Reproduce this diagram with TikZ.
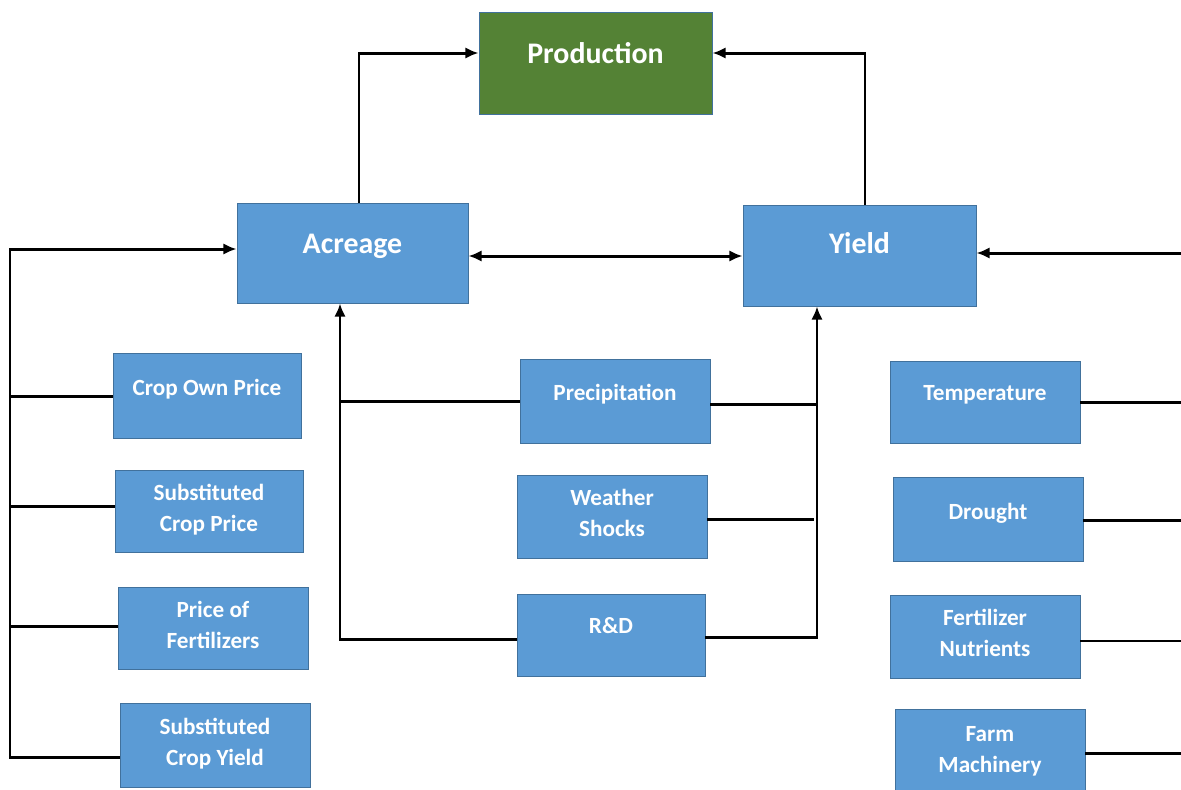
\documentclass[tikz,border=0pt]{standalone}
\usepackage{fontspec}
\setmainfont{Carlito}
\usetikzlibrary{fit,arrows.meta}
\definecolor{boxblue}{HTML}{5B9BD5}
\definecolor{boxedge}{HTML}{41719C}
\definecolor{prodgreen}{HTML}{548235}
\begin{document}
\begin{tikzpicture}[x=0.02cm,y=-0.02cm,
  box/.style={draw=boxedge,fill=boxblue,line width=0.5pt,inner sep=0pt},
  gbox/.style={box,fill=prodgreen},
  big/.style={text=white,font=\bfseries\fontsize{17}{20}\selectfont,inner sep=0pt},
  small/.style={text=white,font=\bfseries\fontsize{13.2}{17.6}\selectfont,align=center,inner sep=0pt},
  conn/.style={line width=1.7pt,line join=miter},
  thinconn/.style={line width=1.0pt},
  arr/.style={conn,-{Latex[length=7.5pt,width=6.5pt]}},
  darr/.style={conn,{Latex[length=7.5pt,width=6.5pt]}-{Latex[length=7.5pt,width=6.5pt]}},
]
\useasboundingbox (0,0) rectangle (1181,789);
\fill[white] (0,0) rectangle (1181,789);

% boxes
\node[gbox,fit={(479,12)(712,114)}] (prod) {};
\node[box,fit={(237,203)(468,303)}] (acr) {};
\node[box,fit={(743,205)(976,306)}] (yld) {};
\node[box,fit={(113,353)(301,438)}] (cop) {};
\node[box,fit={(115,470)(303,552)}] (scp) {};
\node[box,fit={(118,587)(308,669)}] (pof) {};
\node[box,fit={(120,703)(310,787)}] (scy) {};
\node[box,fit={(520,359)(710,443)}] (prec) {};
\node[box,fit={(517,475)(707,558)}] (wsh) {};
\node[box,fit={(517,594)(705,676)}] (rd) {};
\node[box,fit={(890,361)(1080,443)}] (temp) {};
\node[box,fit={(893,477)(1083,561)}] (drou) {};
\node[box,fit={(890,595)(1080,678)}] (fert) {};
\node[box,fit={(895,709)(1085,800)}] (farm) {};

% texts
\node[big] (prodT) at (595.5,56) {\strut Production};
\node[big] (acrT) at (352.5,246) {\strut Acreage};
\node[big] (yldT) at (859.5,246) {\strut Yield};
\node[small] (copT) at (207,389) {\strut Crop Own Price};
\node[small] (scpT) at (209,509.5) {\strut Substituted\\\strut Crop Price};
\node[small] (pofT) at (213,626.5) {\strut Price of\\\strut Fertilizers};
\node[small] (scyT) at (215,744) {\strut Substituted\\\strut Crop Yield};
\node[small] (precT) at (615,394) {\strut Precipitation};
\node[small] (wshT) at (612,515) {\strut Weather\\\strut Shocks};
\node[small] (rdT) at (611,627) {\strut R\&D};
\node[small] (tempT) at (985,394) {\strut Temperature};
\node[small] (drouT) at (988,513) {\strut Drought};
\node[small] (fertT) at (985,635) {\strut Fertilizer\\\strut Nutrients};
\node[small] (farmT) at (990,750.5) {\strut Farm\\\strut Machinery};

% helper coordinates
\coordinate (xA) at (359,0);
\coordinate (xY) at (865,0);
\coordinate (yP) at (0,53);
\coordinate (yAY) at (0,256);
\coordinate (L0) at (10,249);
\coordinate (L1) at (10,396);
\coordinate (L2) at (10,506);
\coordinate (L3) at (10,626);
\coordinate (L4) at (10,757);
\coordinate (M1) at (340,639);
\coordinate (M2) at (340,401);
\coordinate (R1) at (817,637);
\coordinate (R2) at (816,404);
\coordinate (R3) at (814,519);
\coordinate (E0) at (1181,253);
\coordinate (E1) at (1181,402);
\coordinate (E2) at (1181,520);
\coordinate (E3) at (1181,641);
\coordinate (E4) at (1181,753);

% connectors
\draw[arr] (acr.north -| xA) |- (prod.west |- yP);
\draw[arr] (yld.north -| xY) |- (prod.east |- yP);
\draw[darr] (acr.east |- yAY) -- (yld.west |- yAY);

\draw[arr] (scy.west |- L4) -- (L4) -- (L0) -- (acr.west |- L0);
\draw[conn] (cop.west |- L1) -- (L1);
\draw[conn] (scp.west |- L2) -- (L2);
\draw[conn] (pof.west |- L3) -- (L3);

\draw[arr] (rd.west |- M1) -- (M1) -- (acr.south -| M1);
\draw[conn] (prec.west |- M2) -- (M2);

\draw[arr] (rd.east |- R1) -- (R1) -- (yld.south -| R1);
\draw[conn] (prec.east |- R2) -- (R2);
\draw[conn] (wsh.east |- R3) -- (R3);

\draw[arr] (E0) -- (yld.east |- E0);
\draw[conn] (temp.east |- E1) -- (E1);
\draw[conn] (drou.east |- E2) -- (E2);
\draw[thinconn] (fert.east |- E3) -- (E3);
\draw[conn] (farm.east |- E4) -- (E4);
\end{tikzpicture}
\end{document}
